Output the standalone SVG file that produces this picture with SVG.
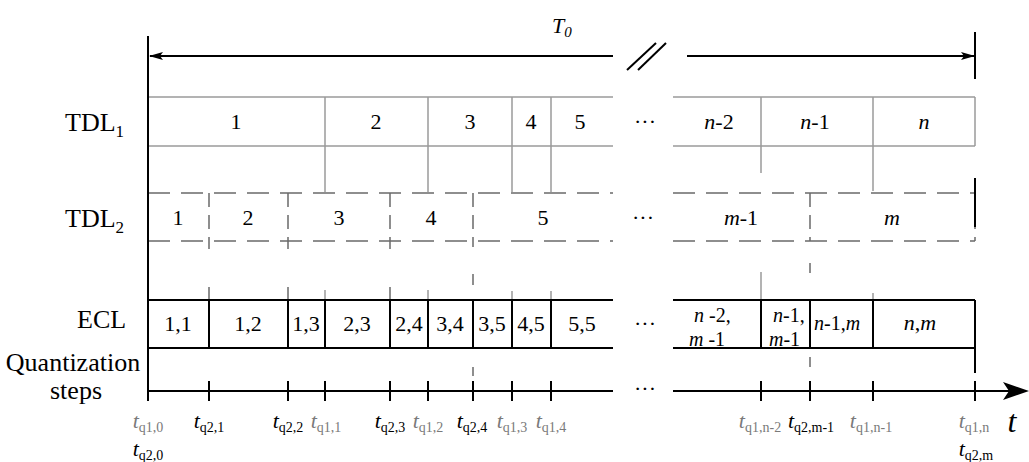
<svg xmlns="http://www.w3.org/2000/svg" width="1029" height="462" viewBox="0 0 1029 462" font-family="'Liberation Serif', 'Times New Roman', serif">
<style>
text, tspan{font-family:'Liberation Serif','Times New Roman',serif}
text{fill:#000}
.lbl{font-size:26px}
.cell{font-size:22px;text-anchor:middle}
.c2{font-size:20px}
.i{font-style:italic}
.g1{stroke:#9a9a9a;stroke-width:1.5;fill:none}
.g2{stroke:#6a6a6a;stroke-width:1.5;fill:none;stroke-dasharray:22 11}
.g2v{stroke:#6a6a6a;stroke-width:1.5;fill:none;stroke-dasharray:14 8}
.k{stroke:#000;stroke-width:2;fill:none}
.tk{stroke:#000;stroke-width:2}
.tl{font-size:22px;text-anchor:middle}
.gray{fill:#7a7a7a}
.sub{font-size:14px;font-style:normal}
</style>
<defs>
<marker id="ah" markerWidth="14" markerHeight="8" refX="13" refY="4" orient="auto" markerUnits="userSpaceOnUse">
<path d="M0,0 L14,4 L0,8 L3,4 z" fill="#000"/>
</marker>
</defs>
<rect width="1029" height="462" fill="#fff"/>

<g id="row-labels">
<text class="lbl" x="65" y="131">TDL<tspan font-size="17" dy="6">1</tspan></text>
<text class="lbl" x="65" y="227">TDL<tspan font-size="17" dy="6">2</tspan></text>
<text class="lbl" x="77" y="328">ECL</text>
<text class="lbl" x="73" y="371" text-anchor="middle">Quantization</text>
<text class="lbl" x="76" y="399" text-anchor="middle">steps</text>
</g>

<g id="T0">
<text x="552" y="33" font-size="22" class="i">T<tspan font-size="15" dy="4">0</tspan></text>
<line class="k" x1="613" y1="56" x2="150" y2="56" stroke-width="1.6" marker-end="url(#ah)"/>
<line class="k" x1="687" y1="56" x2="974" y2="56" stroke-width="1.6" marker-end="url(#ah)"/>
<line class="k" x1="627" y1="70" x2="656" y2="43" stroke-width="1.4"/>
<line class="k" x1="638" y1="70" x2="666" y2="43" stroke-width="1.4"/>
</g>

<g id="tdl1">
<path class="g1" d="M148,97H613M673,97H975M148,146H613M673,146H975M975,97V146"/>
<path class="g1" d="M325,97V192M428,97V192M512,97V192M551,97V192M761,97V173M873,97V191"/>
<text class="cell" x="236" y="129">1</text>
<text class="cell" x="376" y="129">2</text>
<text class="cell" x="470" y="129">3</text>
<text class="cell" x="531" y="129">4</text>
<text class="cell" x="580" y="129">5</text>
<text class="cell" x="645" y="129">···</text>
<text class="cell" x="719" y="129"><tspan class="i">n</tspan>-2</text>
<text class="cell" x="815" y="129"><tspan class="i">n</tspan>-1</text>
<text class="cell i" x="924" y="129">n</text>
</g>

<g id="tdl2">
<path class="g2" d="M148,193H613M673,193H975M148,241H613M673,241H975"/>
<path class="g2v" d="M209,193V249M288,193V249M390,193V249M473,193V247M810,193V241M975,193V241"/>
<text class="cell" x="178" y="225">1</text>
<text class="cell" x="248" y="225">2</text>
<text class="cell" x="339" y="225">3</text>
<text class="cell" x="431" y="225">4</text>
<text class="cell" x="543" y="225">5</text>
<text class="cell" x="643" y="225">···</text>
<text class="cell" x="741" y="225"><tspan class="i">m</tspan>-1</text>
<text class="cell i" x="892" y="225">m</text>
</g>

<g id="connectors">
<path class="g2" stroke-dasharray="none" d="M209,287V300M288,287V300M390,287V300M473,274V285M810,263V273M473,367V376M810,357V367"/>
<path class="g1" d="M325,290V300M428,290V300M512,291V300M551,291V300M761,272V300M873,293V300"/>
<path class="k" d="M975,32V79M975,178V227M975,348V373"/>
</g>

<g id="ecl">
<path class="k" d="M148,300H613M673,300H975M148,348H613M673,348H975"/>
<path class="k" d="M209,300V348M288,300V348M325,300V348M390,300V348M428,300V348M473,300V348M512,300V348M551,300V348M761,300V348M810,300V348M873,300V348M975,300V348"/>
<text class="cell" x="178" y="331">1,1</text>
<text class="cell" x="248" y="331">1,2</text>
<text class="cell" x="306" y="331">1,3</text>
<text class="cell" x="357" y="331">2,3</text>
<text class="cell" x="409" y="331">2,4</text>
<text class="cell" x="450" y="331">3,4</text>
<text class="cell" x="492" y="331">3,5</text>
<text class="cell" x="531" y="331">4,5</text>
<text class="cell" x="582" y="331">5,5</text>
<text class="cell" x="645" y="331">···</text>
<text class="c2" x="694" y="322"><tspan class="i">n</tspan> -2,</text>
<text class="c2" x="689" y="346"><tspan class="i">m</tspan> -1</text>
<text class="c2" x="773" y="322"><tspan class="i">n</tspan>-1,</text>
<text class="c2" x="769" y="346"><tspan class="i">m</tspan>-1</text>
<text class="c2" x="814" y="330"><tspan class="i">n</tspan>-1,<tspan class="i">m</tspan></text>
<text class="cell" x="920" y="330"><tspan class="i">n</tspan>,<tspan class="i">m</tspan></text>
</g>

<g id="time-axis">
<line class="k" x1="148" y1="36" x2="148" y2="401"/>
<line class="k" x1="148" y1="391" x2="613" y2="391"/>
<line class="k" x1="673" y1="391" x2="1010" y2="391"/>
<path d="M1003,382 L1029,391 L1003,400 L1009,391 z" fill="#000"/>
<text class="cell" x="645" y="396">···</text>
<path class="tk" d="M209,381V401M288,381V401M325,381V401M390,381V401M428,381V401M473,381V401M512,381V401M551,381V401M761,381V401M810,381V401M873,381V401M975,381V401"/>
<text x="1012" y="432" font-size="32" class="i" text-anchor="middle">t</text>
</g>

<g id="tick-labels">
<text class="tl gray" x="148" y="428"><tspan class="i">t</tspan><tspan class="sub" dy="4">q1,0</tspan></text>
<text class="tl" x="148" y="456"><tspan class="i">t</tspan><tspan class="sub" dy="4">q2,0</tspan></text>
<text class="tl" x="209" y="428"><tspan class="i">t</tspan><tspan class="sub" dy="4">q2,1</tspan></text>
<text class="tl" x="288" y="428"><tspan class="i">t</tspan><tspan class="sub" dy="4">q2,2</tspan></text>
<text class="tl gray" x="326" y="428"><tspan class="i">t</tspan><tspan class="sub" dy="4">q1,1</tspan></text>
<text class="tl" x="390" y="428"><tspan class="i">t</tspan><tspan class="sub" dy="4">q2,3</tspan></text>
<text class="tl gray" x="428" y="428"><tspan class="i">t</tspan><tspan class="sub" dy="4">q1,2</tspan></text>
<text class="tl" x="472" y="428"><tspan class="i">t</tspan><tspan class="sub" dy="4">q2,4</tspan></text>
<text class="tl gray" x="512" y="428"><tspan class="i">t</tspan><tspan class="sub" dy="4">q1,3</tspan></text>
<text class="tl gray" x="551" y="428"><tspan class="i">t</tspan><tspan class="sub" dy="4">q1,4</tspan></text>
<text class="tl gray" x="760" y="428"><tspan class="i">t</tspan><tspan class="sub" dy="4">q1,n-2</tspan></text>
<text class="tl" x="811" y="428"><tspan class="i">t</tspan><tspan class="sub" dy="4">q2,m-1</tspan></text>
<text class="tl gray" x="871" y="428"><tspan class="i">t</tspan><tspan class="sub" dy="4">q1,n-1</tspan></text>
<text class="tl gray" x="974" y="428"><tspan class="i">t</tspan><tspan class="sub" dy="4">q1,n</tspan></text>
<text class="tl" x="976" y="456"><tspan class="i">t</tspan><tspan class="sub" dy="4">q2,m</tspan></text>
</g>
</svg>
